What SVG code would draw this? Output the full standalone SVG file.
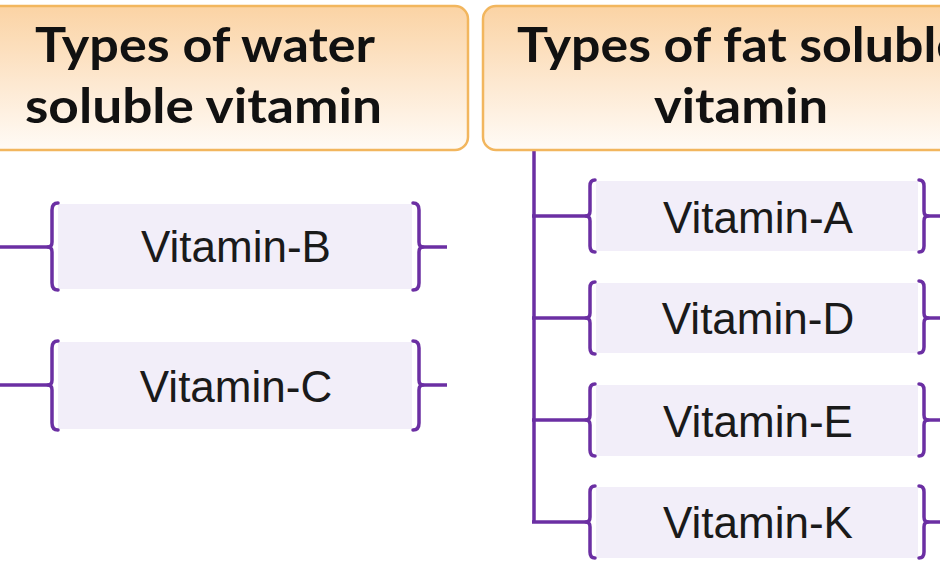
<svg xmlns="http://www.w3.org/2000/svg" width="940" height="564" viewBox="0 0 940 564">
<defs>
<linearGradient id="hdr" x1="0" y1="0" x2="0" y2="1">
<stop offset="0" stop-color="#fbd3a4"/>
<stop offset="0.55" stop-color="#fde9d2"/>
<stop offset="1" stop-color="#fffbf6"/>
</linearGradient>
<style>
.hdr{fill:url(#hdr);stroke:#f2b65e;stroke-width:2.5}
.ht{font-family:Lato,"Open Sans","Liberation Sans",sans-serif;font-weight:700;font-size:48px;fill:#111}
.box{fill:#f2eef9}
.br{fill:none;stroke:#6b2fa3;stroke-width:3.5;stroke-linecap:round;stroke-linejoin:round}
.ln{fill:none;stroke:#6b2fa3;stroke-width:3.5}
.vt{font-family:"Liberation Sans",Arial,sans-serif;font-size:44px;fill:#1a1a1a;text-anchor:middle}
</style>
</defs>
<rect width="940" height="564" fill="#ffffff"/>

<g id="connectors">
<line class="ln" x1="534" y1="150" x2="534" y2="522"/>
<line class="ln" x1="-5" y1="247" x2="50" y2="247"/>
<line class="ln" x1="-5" y1="385" x2="50" y2="385"/>
<line class="ln" x1="420" y1="247" x2="447" y2="247"/>
<line class="ln" x1="420" y1="385" x2="447" y2="385"/>
<line class="ln" x1="532" y1="216" x2="588" y2="216"/>
<line class="ln" x1="532" y1="318" x2="588" y2="318"/>
<line class="ln" x1="532" y1="420" x2="588" y2="420"/>
<line class="ln" x1="532" y1="522" x2="588" y2="522"/>
<line class="ln" x1="925" y1="216" x2="945" y2="216"/>
<line class="ln" x1="925" y1="318" x2="945" y2="318"/>
<line class="ln" x1="925" y1="420" x2="945" y2="420"/>
<line class="ln" x1="925" y1="522" x2="945" y2="522"/>
</g>

<g id="water-header">
<rect class="hdr" x="-40" y="6" width="508" height="144" rx="13"/>
<text class="ht" x="35" y="62" textLength="340" lengthAdjust="spacingAndGlyphs">Types of water</text>
<text class="ht" x="25" y="123" textLength="357" lengthAdjust="spacingAndGlyphs">soluble vitamin</text>
</g>

<g id="fat-header">
<rect class="hdr" x="483" y="6" width="520" height="144" rx="13"/>
<text class="ht" x="517" y="62" textLength="447" lengthAdjust="spacingAndGlyphs">Types of fat soluble</text>
<text class="ht" x="654" y="123" textLength="174" lengthAdjust="spacingAndGlyphs">vitamin</text>
</g>

<g id="vitamin-b">
<rect class="box" x="58" y="204" width="354" height="85"/>
<path class="br" d="M58 203 Q52 203 52 210 L52 242 Q52 247 48 247 Q52 247 52 252 L52 283 Q52 290 58 290"/>
<path class="br" d="M413 203 Q419 203 419 210 L419 242 Q419 247 423 247 Q419 247 419 252 L419 283 Q419 290 413 290"/>
<text class="vt" x="236" y="262">Vitamin-B</text>
</g>

<g id="vitamin-c">
<rect class="box" x="58" y="342" width="354" height="87"/>
<path class="br" d="M58 341 Q52 341 52 348 L52 380 Q52 385 48 385 Q52 385 52 390 L52 423 Q52 430 58 430"/>
<path class="br" d="M413 341 Q419 341 419 348 L419 380 Q419 385 423 385 Q419 385 419 390 L419 423 Q419 430 413 430"/>
<text class="vt" x="236" y="402">Vitamin-C</text>
</g>

<g id="vitamin-a">
<rect class="box" x="596" y="181" width="322" height="70"/>
<path class="br" d="M595 180 Q590 180 590 186 L590 211 Q590 216 586 216 Q590 216 590 221 L590 246 Q590 252 595 252"/>
<path class="br" d="M919 180 Q924 180 924 186 L924 211 Q924 216 928 216 Q924 216 924 221 L924 246 Q924 252 919 252"/>
<text class="vt" x="758" y="233">Vitamin-A</text>
</g>

<g id="vitamin-d">
<rect class="box" x="596" y="283" width="322" height="70"/>
<path class="br" d="M595 282 Q590 282 590 288 L590 313 Q590 318 586 318 Q590 318 590 323 L590 348 Q590 354 595 354"/>
<path class="br" d="M919 281 Q924 281 924 287 L924 313 Q924 318 928 318 Q924 318 924 323 L924 347 Q924 353 919 353"/>
<text class="vt" x="758" y="334">Vitamin-D</text>
</g>

<g id="vitamin-e">
<rect class="box" x="596" y="385" width="322" height="71"/>
<path class="br" d="M595 384 Q590 384 590 390 L590 415 Q590 420 586 420 Q590 420 590 425 L590 450 Q590 456 595 456"/>
<path class="br" d="M919 384 Q924 384 924 390 L924 415 Q924 420 928 420 Q924 420 924 425 L924 450 Q924 456 919 456"/>
<text class="vt" x="758" y="437">Vitamin-E</text>
</g>

<g id="vitamin-k">
<rect class="box" x="596" y="487" width="322" height="71"/>
<path class="br" d="M595 486 Q590 486 590 492 L590 517 Q590 522 586 522 Q590 522 590 527 L590 552 Q590 558 595 558"/>
<path class="br" d="M919 486 Q924 486 924 492 L924 517 Q924 522 928 522 Q924 522 924 527 L924 552 Q924 558 919 558"/>
<text class="vt" x="758" y="538">Vitamin-K</text>
</g>
</svg>
